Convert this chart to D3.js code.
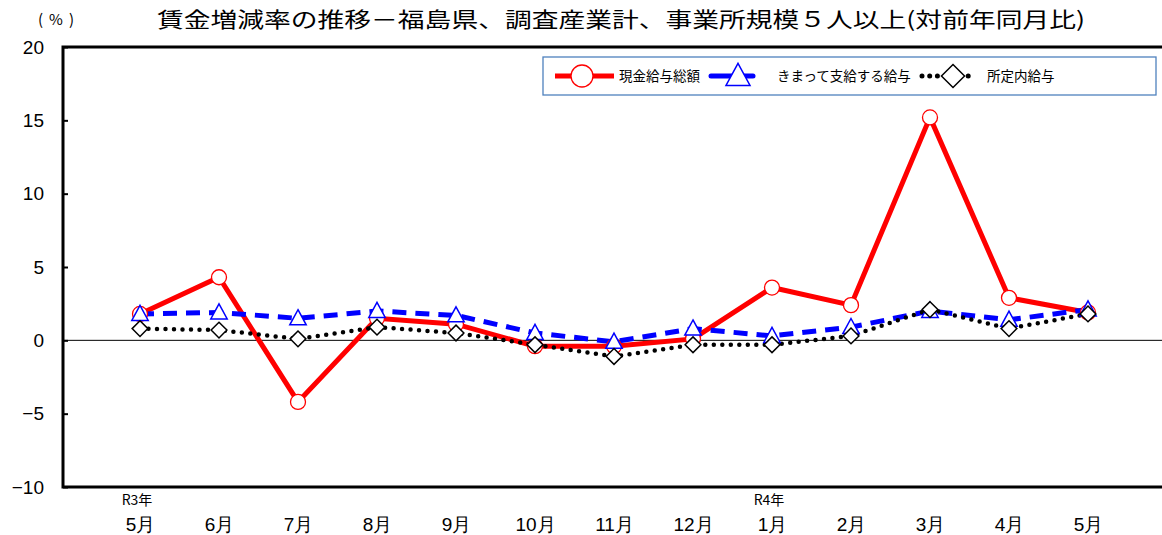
<!DOCTYPE html>
<html>
<head>
<meta charset="utf-8">
<script src="https://cdn.jsdelivr.net/npm/d3@7"></script>
<style>
  body { margin: 0; background: #fff; }
  svg { display: block; font-family: "Noto Sans CJK JP", "Liberation Sans", sans-serif; }
</style>
</head>
<body>
<div id="chart"></div>
<script>
/** Data. */
const MONTHS = ["5月", "6月", "7月", "8月", "9月", "10月", "11月", "12月", "1月", "2月", "3月", "4月", "5月"];
const YEAR_LABELS = ["R3年", "", "", "", "", "", "", "", "R4年", "", "", "", ""];
const TOTAL_PAY = [1.8, 4.3, -4.2, 1.5, 1.1, -0.4, -0.4, 0.1, 3.6, 2.4, 15.2, 2.9, 1.9];
const REGULAR_PAY = [1.8, 1.9, 1.5, 2.0, 1.7, 0.5, -0.1, 0.8, 0.3, 0.9, 2.0, 1.4, 2.1];
const SCHEDULED_PAY = [0.8, 0.7, 0.1, 0.9, 0.5, -0.3, -1.1, -0.3, -0.3, 0.3, 2.1, 0.8, 1.8];
const Y_TICKS = [-10, -5, 0, 5, 10, 15, 20];

const SERIES = [
    {name: "現金給与総額", values: TOTAL_PAY, color: "#ff0000", dash: null, marker: "circle"},
    {name: "きまって支給する給与", values: REGULAR_PAY, color: "#0000ff", dash: "14,9", marker: "triangle"},
    {name: "所定内給与", values: SCHEDULED_PAY, color: "#000000", dash: "0,8.5", marker: "diamond"},
];

const WIDTH = 1162;
const HEIGHT = 535;
const PLOT = {left: 63, right: 1170, top: 47, bottom: 487};

const keys = MONTHS.map((m, i) => i);
const x = d3.scalePoint()
    .domain(keys)
    .range([140, 1088]);
const y = d3.scaleLinear()
    .domain([-10, 20])
    .range([PLOT.bottom, PLOT.top]);

const svg = d3.select("#chart").append("svg")
    .attr("width", WIDTH)
    .attr("height", HEIGHT);

// Title and unit
svg.append("text")
    .attr("x", 621)
    .attr("y", 27)
    .attr("text-anchor", "middle")
    .attr("font-size", 21)
    .attr("textLength", 928)
    .attr("lengthAdjust", "spacingAndGlyphs")
    .text("賃金増減率の推移－福島県、調査産業計、事業所規模５人以上(対前年同月比)");
svg.append("text")
    .attr("x", 56)
    .attr("y", 25)
    .attr("text-anchor", "middle")
    .attr("font-size", 15)
    .attr("textLength", 36)
    .attr("lengthAdjust", "spacing")
    .text("(%)");

// Zero line
svg.append("line")
    .attr("x1", PLOT.left).attr("x2", PLOT.right)
    .attr("y1", y(0)).attr("y2", y(0))
    .attr("stroke", "#000")
    .attr("stroke-width", 1);

// Y axis: inner ticks, labels on the left
const yAxis = d3.axisLeft(y)
    .tickValues(Y_TICKS)
    .tickSizeInner(-5)
    .tickSizeOuter(0)
    .tickPadding(19)
    .tickFormat(d => d < 0 ? "−" + Math.abs(d) : d);
const yG = svg.append("g")
    .attr("transform", `translate(${PLOT.left},0)`)
    .call(yAxis);
yG.select(".domain").remove();
yG.selectAll("line").attr("stroke-width", 2);
yG.selectAll("text")
    .attr("font-size", 19)
    .attr("font-family", "'Liberation Sans', sans-serif")
    .attr("fill", "#000");

// Frame (top, left, bottom)
svg.append("path")
    .attr("d", `M${PLOT.right},${PLOT.top}H${PLOT.left}V${PLOT.bottom}H${PLOT.right}`)
    .attr("fill", "none")
    .attr("stroke", "#000")
    .attr("stroke-width", 3);

// X labels
const xAxis = d3.axisBottom(x)
    .tickSize(0)
    .tickPadding(0)
    .tickFormat(i => MONTHS[i]);
const xG = svg.append("g")
    .attr("transform", `translate(0,${PLOT.bottom + 44})`)
    .call(xAxis);
xG.select(".domain").remove();
xG.selectAll("text")
    .attr("dy", 0)
    .attr("font-size", 19)
    .attr("fill", "#000");
svg.append("g").selectAll("text")
    .data(keys.filter(i => YEAR_LABELS[i]))
    .join("text")
    .attr("x", i => x(i) - 3)
    .attr("y", PLOT.bottom + 18)
    .attr("text-anchor", "middle")
    .attr("font-size", 14)
    .text(i => YEAR_LABELS[i]);

// Markers
function marker(g, type, size, color) {
    if (type === "circle") {
        g.append("circle").attr("r", size)
            .attr("fill", "#fff").attr("stroke", color).attr("stroke-width", 1.3);
    } else if (type === "triangle") {
        const s = size * 1.15;
        g.append("path").attr("d", `M0,${-s}L${s * 0.95},${s * 0.75}L${-s * 0.95},${s * 0.75}Z`)
            .attr("fill", "#fff").attr("stroke", color).attr("stroke-width", 1.5);
    } else {
        const s = size * 1.05;
        g.append("path").attr("d", `M0,${-s}L${s},0L0,${s}L${-s},0Z`)
            .attr("fill", "#fff").attr("stroke", color).attr("stroke-width", 1.5);
    }
}

const line = d3.line()
    .x((d, i) => x(i))
    .y(d => y(d));

SERIES.forEach(s => {
    const p = svg.append("path")
        .attr("d", line(s.values))
        .attr("fill", "none")
        .attr("stroke", s.color)
        .attr("stroke-width", s.marker === "diamond" ? 4.5 : 5);
    if (s.dash) p.attr("stroke-dasharray", s.dash);
    if (s.marker === "diamond") p.attr("stroke-linecap", "round");
});

SERIES.forEach(s => {
    s.values.forEach((v, i) => {
        const g = svg.append("g").attr("transform", `translate(${x(i)},${y(v)})`);
        marker(g, s.marker, 7.5, s.color);
    });
});

// Legend
const legend = svg.append("g");
legend.append("rect")
    .attr("x", 543).attr("y", 57)
    .attr("width", 613).attr("height", 38)
    .attr("fill", "#fff")
    .attr("stroke", "#4f81bd")
    .attr("stroke-width", 1.3);

const LEGEND_ITEMS = [
    {x1: 555, x2: 614, mx: 582, tx: 619},
    {x1: 711, x2: 753, mx: 738, tx: 777},
    {x1: 922, x2: 972, mx: 953, tx: 987},
];
SERIES.forEach((s, k) => {
    const it = LEGEND_ITEMS[k];
    const ly = 76;
    const p = legend.append("line")
        .attr("x1", it.x1).attr("x2", it.x2)
        .attr("y1", ly).attr("y2", ly)
        .attr("stroke", s.color)
        .attr("stroke-width", 5);
    if (s.marker === "diamond") p.attr("stroke-dasharray", "0,7.7");
    if (s.marker !== "circle") p.attr("stroke-linecap", "round");
    const g = legend.append("g").attr("transform", `translate(${it.mx},${ly})`);
    marker(g, s.marker, 11, s.color);
    legend.append("text")
        .attr("x", it.tx)
        .attr("y", ly + 5)
        .attr("font-size", 13.5)
        .text(s.name);
});
</script>
</body>
</html>
